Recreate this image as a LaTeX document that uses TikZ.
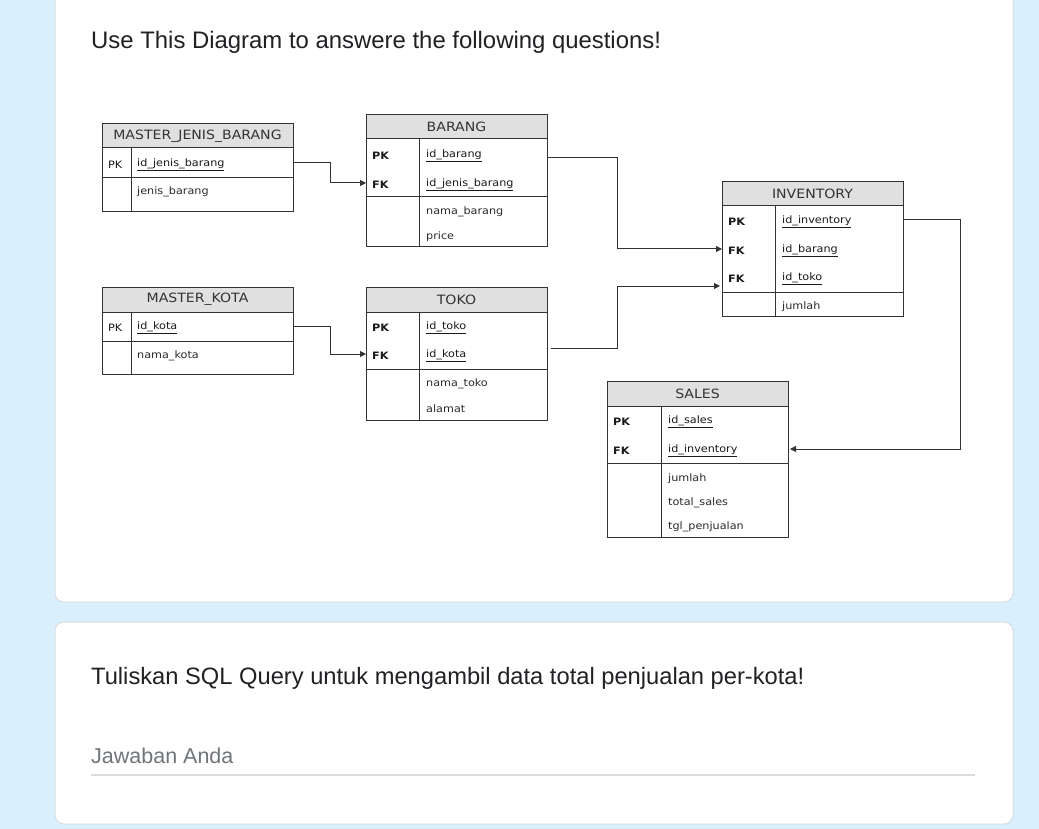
\documentclass[tikz,border=0pt]{standalone}
\usepackage{fontspec}
\setmainfont{Liberation Sans}
\newfontfamily\tblfont[FakeStretch=1.1]{DejaVu Sans}
\usetikzlibrary{arrows.meta}
\definecolor{bgblue}{HTML}{D9F0FC}
\definecolor{cardline}{HTML}{D6DEE4}
\definecolor{linec}{HTML}{333333}
\definecolor{headc}{HTML}{E0E0E0}
\definecolor{keyc}{HTML}{1A1A1A}
\definecolor{fldc}{HTML}{2A2A2A}
\definecolor{qtext}{HTML}{202124}
\definecolor{hint}{HTML}{70757A}
\definecolor{rulec}{HTML}{DADCE0}
\newcommand{\hfont}{\tblfont\fontsize{12.8}{14}\selectfont}
\newcommand{\kfont}{\tblfont\fontsize{10.2}{12}\selectfont}
\newcommand{\ffont}{\tblfont\fontsize{10.2}{12}\selectfont}
\begin{document}
\begin{tikzpicture}[x=1pt,y=-1pt,
  card/.style={fill=white,draw=cardline,line width=1pt,rounded corners=9pt},
  tframe/.style={draw=linec,line width=1pt,anchor=north west,inner sep=0pt,outer sep=0pt},
  thead/.style={draw=linec,fill=headc,line width=1pt,anchor=north west,inner sep=0pt,outer sep=0pt,font=\hfont,text=linec},
  tline/.style={draw=linec,line width=1pt},
  key/.style={anchor=west,inner sep=0pt,yshift=-1.5pt,font=\kfont\bfseries,text=keyc},
  keyn/.style={anchor=west,inner sep=0pt,yshift=-1.5pt,font=\kfont,text=keyc},
  kfld/.style={anchor=west,inner sep=0pt,yshift=-1.5pt,font=\ffont,text=keyc},
  fld/.style={anchor=west,inner sep=0pt,yshift=-1.5pt,font=\ffont,text=fldc},
  conn/.style={draw=linec,line width=1pt,-{Triangle[length=6pt,width=6pt]}},
  qtitle/.style={anchor=base west,inner sep=0pt,font=\fontsize{23.9}{28}\selectfont,text=qtext},
]
\useasboundingbox (0,0) rectangle (1039,829);
\fill[bgblue] (0,0) rectangle (1039,829);
% cards
\path[card] (55,-20) rectangle (1013,602);
\path[card] (55,622) rectangle (1013,824);
\node[qtitle] (q1) at (91,49) {Use This Diagram to answere the following questions!};
\node[qtitle,font=\fontsize{23.7}{28}\selectfont] (q2) at (91,684) {Tuliskan SQL Query untuk mengambil data total penjualan per-kota!};
\node[anchor=base west,inner sep=0pt,font=\fontsize{21.5}{25}\selectfont,text=hint] (ans) at (91,763) {Jawaban Anda};
\draw[rulec,line width=1.5pt] (91,775) -- (975,775);

% MASTER_JENIS_BARANG
\node[tframe,minimum width=191pt,minimum height=88pt] (mjb) at (102,124) {};
\node[thead,minimum width=191pt,minimum height=24pt] (mjbh) at (102,124) {MASTER\_JENIS\_BARANG};
\draw[tline] (102,178) -- (293,178);
\draw[tline] (131,148) -- (131,212);
\node[keyn] (mjbpk) at (108,163) {PK};
\node[kfld] (mjbid) at (137,163) {\underline{id\_jenis\_barang}};
\node[fld] (mjbf1) at (137,190) {jenis\_barang};

% BARANG
\node[tframe,minimum width=181pt,minimum height=132pt] (brg) at (366,115) {};
\node[thead,minimum width=181pt,minimum height=24pt] (brgh) at (366,115) {BARANG};
\draw[tline] (366,197) -- (547,197);
\draw[tline] (419,139) -- (419,247);
\node[key] (brgpk) at (372,154) {PK};
\node[kfld] (brgid) at (426,154) {\underline{id\_barang}};
\node[key] (brgfk) at (372,183) {FK};
\node[kfld] (brgjb) at (426,183) {\underline{id\_jenis\_barang}};
\node[fld] (brgf1) at (426,210) {nama\_barang};
\node[fld] (brgf2) at (426,235) {price};

% MASTER_KOTA
\node[tframe,minimum width=191pt,minimum height=87pt] (mk) at (102,287) {};
\node[thead,minimum width=191pt,minimum height=25pt] (mkh) at (102,287) {MASTER\_KOTA};
\draw[tline] (102,341) -- (293,341);
\draw[tline] (131,312) -- (131,374);
\node[keyn] (mkpk) at (108,326) {PK};
\node[kfld] (mkid) at (137,326) {\underline{id\_kota}};
\node[fld] (mkf1) at (137,354) {nama\_kota};

% TOKO
\node[tframe,minimum width=181pt,minimum height=133pt] (tk) at (366,287) {};
\node[thead,minimum width=181pt,minimum height=25pt] (tkh) at (366,287) {TOKO};
\draw[tline] (366,369) -- (547,369);
\draw[tline] (419,312) -- (419,420);
\node[key] (tkpk) at (372,326) {PK};
\node[kfld] (tkid) at (426,326) {\underline{id\_toko}};
\node[key] (tkfk) at (372,354) {FK};
\node[kfld] (tkkota) at (426,354) {\underline{id\_kota}};
\node[fld] (tkf1) at (426,382) {nama\_toko};
\node[fld] (tkf2) at (426,407) {alamat};

% INVENTORY
\node[tframe,minimum width=181pt,minimum height=134pt] (inv) at (722,182) {};
\node[thead,minimum width=181pt,minimum height=24pt] (invh) at (722,182) {INVENTORY};
\draw[tline] (722,292) -- (903,292);
\draw[tline] (775,206) -- (775,316);
\node[key] (invpk) at (728,220) {PK};
\node[kfld] (invid) at (782,220) {\underline{id\_inventory}};
\node[key] (invfk1) at (728,249) {FK};
\node[kfld] (invbrg) at (782,249) {\underline{id\_barang}};
\node[key] (invfk2) at (728,277) {FK};
\node[kfld] (invtk) at (782,277) {\underline{id\_toko}};
\node[fld] (invf1) at (782,305) {jumlah};

% SALES
\node[tframe,minimum width=181pt,minimum height=156pt] (sl) at (607,381) {};
\node[thead,minimum width=181pt,minimum height=25pt] (slh) at (607,381) {SALES};
\draw[tline] (607,463) -- (788,463);
\draw[tline] (661,406) -- (661,537);
\node[key] (slpk) at (613,420) {PK};
\node[kfld] (slid) at (668,420) {\underline{id\_sales}};
\node[key] (slfk) at (613,449) {FK};
\node[kfld] (slinv) at (668,449) {\underline{id\_inventory}};
\node[fld] (slf1) at (668,477) {jumlah};
\node[fld] (slf2) at (668,501) {total\_sales};
\node[fld] (slf3) at (668,525) {tgl\_penjualan};

% connectors
\coordinate (c1) at (330,163);
\draw[conn] (mjb.east |- c1) -- (c1) |- (brg.west |- 0,183);
\coordinate (c2) at (330,326);
\draw[conn] (mk.east |- c2) -- (c2) |- (tk.west |- 0,354);
\coordinate (c3) at (617,158);
\draw[conn] (brg.east |- c3) -- (c3) |- (inv.west |- 0,249);
\coordinate (c4s) at (551,348);
\coordinate (c4) at (617,348);
\coordinate (c4e) at (720,286);
\draw[conn] (c4s) -- (c4) |- (c4e);
\coordinate (c5) at (960,220);
\draw[conn] (inv.east |- c5) -- (c5) |- ([xshift=2pt]sl.east |- 0,449);
\end{tikzpicture}
\end{document}
